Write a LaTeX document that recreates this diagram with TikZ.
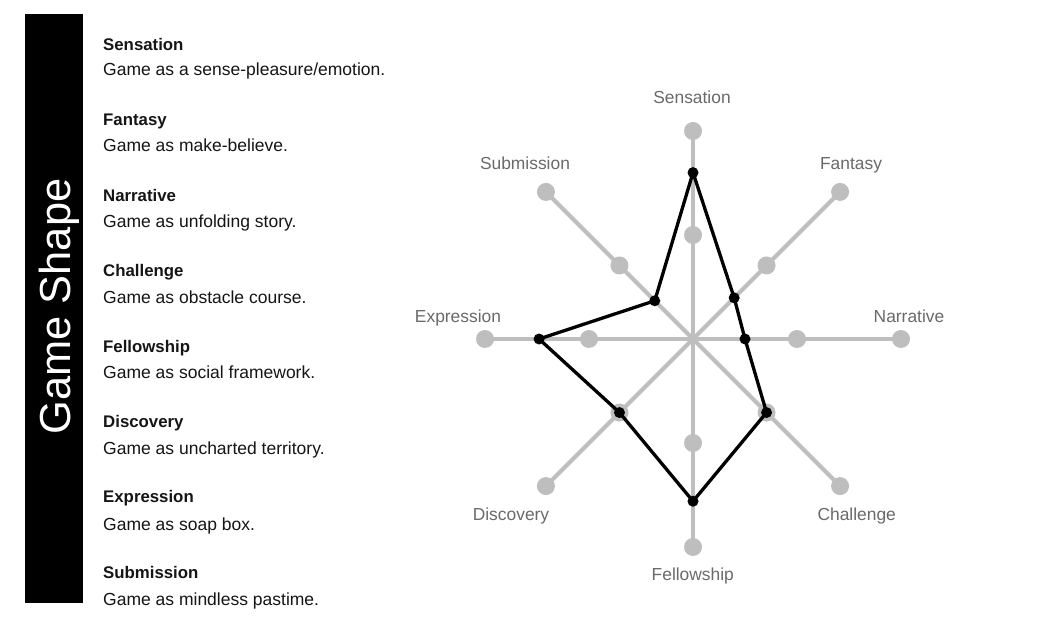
\documentclass[tikz,border=0pt]{standalone}
\usepackage{fontspec}
\setmainfont{Liberation Sans}
\definecolor{axisgray}{HTML}{BEBEBE}
\definecolor{labelgray}{HTML}{6A6A6A}
\definecolor{textblack}{HTML}{151515}
\begin{document}
\begin{tikzpicture}[x=1pt,y=-1pt,
  axis/.style={draw=axisgray,line width=4pt},
  gdot/.style={circle,fill=axisgray,minimum size=18pt,inner sep=0pt},
  bdot/.style={circle,fill=black,minimum size=11pt,inner sep=0pt},
  shapeline/.style={draw=black,line width=3.3pt,line join=round},
  radlabel/.style={font=\fontsize{17.4}{20}\selectfont,text=labelgray,anchor=base,inner sep=0pt},
  head/.style={font=\fontsize{16.8}{20}\selectfont\bfseries,text=textblack,anchor=base west,inner sep=0pt},
  desc/.style={font=\fontsize{17.5}{20}\selectfont,text=textblack,anchor=base west,inner sep=0pt},
  titlebar/.style={fill=black,draw=none,minimum width=58pt,minimum height=589pt,inner sep=0pt}]
\useasboundingbox[fill=white] (0,0) rectangle (1044,620);
% title bar
\node[titlebar] (bar) at (54,308.5) {};
\node[rotate=90,anchor=base,text=white,font=\fontsize{43.4}{50}\selectfont,inner sep=0pt] (title) at (70,306.5) {Game Shape};
% list
\node[head] (h1) at (103,50.5) {Sensation};
\node[desc] (d1) at (103,76) {Game as a sense-pleasure/emotion.};
\node[head] (h2) at (103,125.9) {Fantasy};
\node[desc] (d2) at (103,151.7) {Game as make-believe.};
\node[head] (h3) at (103,201.3) {Narrative};
\node[desc] (d3) at (103,227.4) {Game as unfolding story.};
\node[head] (h4) at (103,276.7) {Challenge};
\node[desc] (d4) at (103,303.1) {Game as obstacle course.};
\node[head] (h5) at (103,352.1) {Fellowship};
\node[desc] (d5) at (103,378.8) {Game as social framework.};
\node[head] (h6) at (103,427.5) {Discovery};
\node[desc] (d6) at (103,454.5) {Game as uncharted territory.};
\node[head] (h7) at (103,502.9) {Expression};
\node[desc] (d7) at (103,530.2) {Game as soap box.};
\node[head] (h8) at (103,578.3) {Submission};
\node[desc] (d8) at (103,605.9) {Game as mindless pastime.};
% radar
\coordinate (c) at (693,339);
\foreach \a/\n/\v in {90/sen/0.8, 45/fan/0.28, 0/nar/0.25, -45/cha/0.5, -90/fel/0.78, -135/dis/0.5, 180/exp/0.74, 135/sub/0.26} {
  \coordinate (\n-oc) at ({693+208*cos(\a)},{339-208*sin(\a)});
  \coordinate (\n-mc) at ({693+104*cos(\a)},{339-104*sin(\a)});
  \coordinate (\n-d) at ({693+208*\v*cos(\a)},{339-208*\v*sin(\a)});
  \draw[axis] (c) -- (\n-oc);
  \node[gdot] (\n-o) at (\n-oc) {};
  \node[gdot] (\n-m) at (\n-mc) {};
}
\draw[shapeline] (sen-d) -- (fan-d) -- (nar-d) -- (cha-d) -- (fel-d) -- (dis-d) -- (exp-d) -- (sub-d) -- cycle;
\foreach \n in {sen,fan,nar,cha,fel,dis,exp,sub} {
  \node[bdot] (\n-b) at (\n-d) {};
}
% radar labels
\node[radlabel] (l-sen) at (692,103.3) {Sensation};
\node[radlabel] (l-fan) at (851,170) {Fantasy};
\node[radlabel] (l-nar) at (909,323) {Narrative};
\node[radlabel] (l-cha) at (856.7,520.7) {Challenge};
\node[radlabel] (l-fel) at (692.8,580.7) {Fellowship};
\node[radlabel] (l-dis) at (511,520.7) {Discovery};
\node[radlabel] (l-exp) at (458,323) {Expression};
\node[radlabel] (l-sub) at (525,170) {Submission};
\end{tikzpicture}
\end{document}
